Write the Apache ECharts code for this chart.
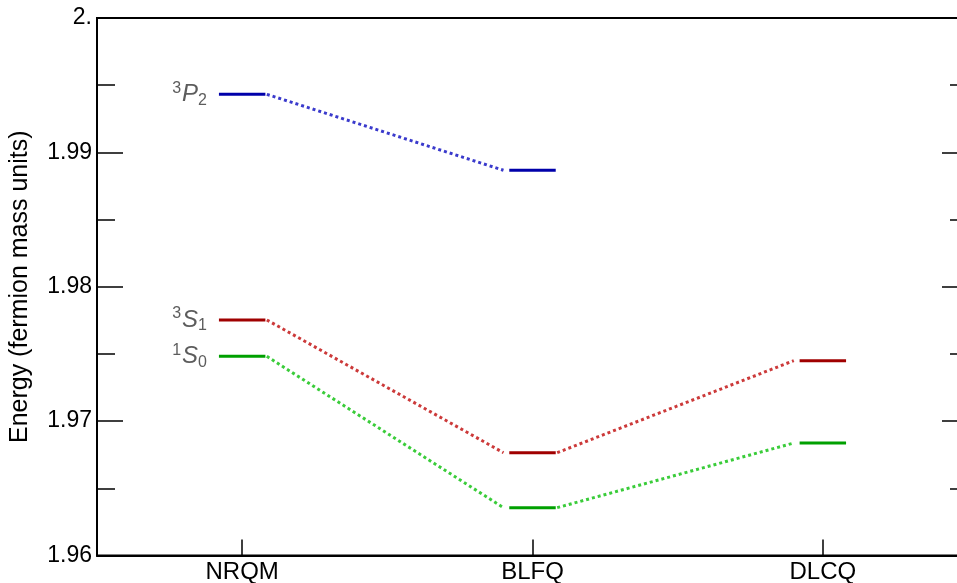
<!DOCTYPE html>
<html>
<head>
<meta charset="utf-8">
<script src="https://cdn.jsdelivr.net/npm/echarts@6/dist/echarts.min.js"></script>
<style>
html,body{margin:0;padding:0;background:#fff;}
#chart{width:957px;height:583px;}
</style>
</head>
<body>
<div id="chart"></div>
<script>
// ---- data ----
var categories = ['NRQM', 'BLFQ', 'DLCQ'];
var stateP2 = [1.99432, 1.98867, null];   // 3P2
var stateS1 = [1.97753, 1.96765, 1.97450]; // 3S1
var stateS0 = [1.97482, 1.96356, 1.96837]; // 1S0
var stateSup = ['3', '3', '1'];
var stateLetter = ['P', 'S', 'S'];
var stateSub = ['2', '1', '0'];
var yTicks = [1.96, 1.97, 1.98, 1.99, 2.0];

var states = [stateP2, stateS1, stateS0];
var solidColors = ['#0000aa', '#a00000', '#00a000'];
var dotColors = ['#3a3acc', '#cc3a3a', '#3acc3a'];
var HALF = 0.08;

var FONT = 'Liberation Sans, Arial, Helvetica, sans-serif';
var LABEL_COLOR = '#333333';
var series = [];

states.forEach(function (vals, s) {
  // solid level segments
  var segData = [];
  vals.forEach(function (v, i) { if (v != null) segData.push([i, v]); });
  series.push({
    type: 'custom',
    xAxisIndex: 1,
    data: segData,
    silent: true,
    renderItem: function (params, api) {
      var i = api.value(0), v = api.value(1);
      var a = api.coord([i - HALF, v]);
      var b = api.coord([i + HALF, v]);
      return {
        type: 'line',
        shape: { x1: a[0], y1: a[1], x2: b[0], y2: b[1] },
        style: { stroke: solidColors[s], lineWidth: 3 }
      };
    },
    z: 5
  });
  // dotted connectors
  var dotData = [];
  for (var i = 0; i < vals.length - 1; i++) {
    if (vals[i] != null && vals[i + 1] != null) {
      if (dotData.length) dotData.push(['-', '-']);
      dotData.push([i + HALF + 0.005, vals[i]]);
      dotData.push([i + 1 - HALF - 0.02, vals[i + 1]]);
    }
  }
  series.push({
    type: 'line',
    xAxisIndex: 1,
    data: dotData,
    symbol: 'none',
    silent: true,
    connectNulls: false,
    lineStyle: { color: dotColors[s], width: 3, type: [3, 3] },
    z: 4
  });
  // state label
  series.push({
    type: 'scatter',
    xAxisIndex: 1,
    symbolSize: 0,
    silent: true,
    data: [[-HALF, vals[0]]],
    label: {
      show: true,
      position: 'left',
      distance: 12,
      color: LABEL_COLOR,
      fontFamily: FONT,
      formatter: '{sup|' + stateSup[s] + '}{main|' + stateLetter[s] + '}{sub|' + stateSub[s] + '}',
      rich: {
        sup: { fontSize: 16, verticalAlign: 'top', lineHeight: 16, color: LABEL_COLOR, fontFamily: FONT, padding: [0, 1, 0, 0] },
        main: { fontSize: 24, fontStyle: 'italic', lineHeight: 28, color: LABEL_COLOR, fontFamily: FONT },
        sub: { fontSize: 16, verticalAlign: 'bottom', lineHeight: 16, color: LABEL_COLOR, fontFamily: FONT }
      }
    }
  });
});

var chart = echarts.init(document.getElementById('chart'), null, { renderer: 'canvas' });
chart.setOption({
  animation: false,
  backgroundColor: '#fff',
  grid: {
    left: 97, top: 18, bottom: 27.5, right: -11,
    outerBoundsMode: 'none',
    containLabel: false,
    show: true, borderColor: '#000', borderWidth: 2, backgroundColor: 'transparent'
  },
  xAxis: [{
    type: 'category',
    data: categories,
    boundaryGap: true,
    axisLine: { show: true, onZero: false, lineStyle: { color: '#000', width: 2 } },
    axisTick: { show: true, inside: true, length: 16, alignWithLabel: true, lineStyle: { color: '#000', width: 1.5 } },
    axisLabel: { color: '#000', fontSize: 24, fontFamily: FONT, margin: 5 },
    splitLine: { show: false }
  }, {
    type: 'value',
    min: -0.5, max: 2.5,
    show: false
  }],
  yAxis: [{
    type: 'value',
    min: 1.96, max: 2.0, interval: 0.01,
    name: 'Energy (fermion mass units)',
    nameLocation: 'middle',
    nameRotate: 90,
    nameGap: 64,
    nameTextStyle: { color: '#000', fontSize: 25, fontFamily: FONT },
    axisLine: { show: true, onZero: false, lineStyle: { color: '#000', width: 2 } },
    axisTick: { show: true, inside: true, length: 26, lineStyle: { color: '#000', width: 1.5 } },
    minorTick: { show: true, splitNumber: 2, length: 18, lineStyle: { color: '#000', width: 1.5 } },
    axisLabel: {
      color: '#000', fontSize: 23, fontFamily: FONT, margin: 5,
      formatter: function (v) { return Math.abs(v - 2) < 1e-9 ? '2.' : v.toFixed(2); },
      customValues: yTicks
    },
    splitLine: { show: false }
  }, {
    type: 'value',
    position: 'right',
    min: 1.96, max: 2.0, interval: 0.01,
    axisLine: { show: true, onZero: false, lineStyle: { color: '#000', width: 2 } },
    axisTick: { show: true, inside: true, length: 26, lineStyle: { color: '#000', width: 1.5 } },
    minorTick: { show: true, splitNumber: 2, length: 18, lineStyle: { color: '#000', width: 1.5 } },
    axisLabel: { show: false },
    splitLine: { show: false }
  }],
  series: series
});
</script>
</body>
</html>
